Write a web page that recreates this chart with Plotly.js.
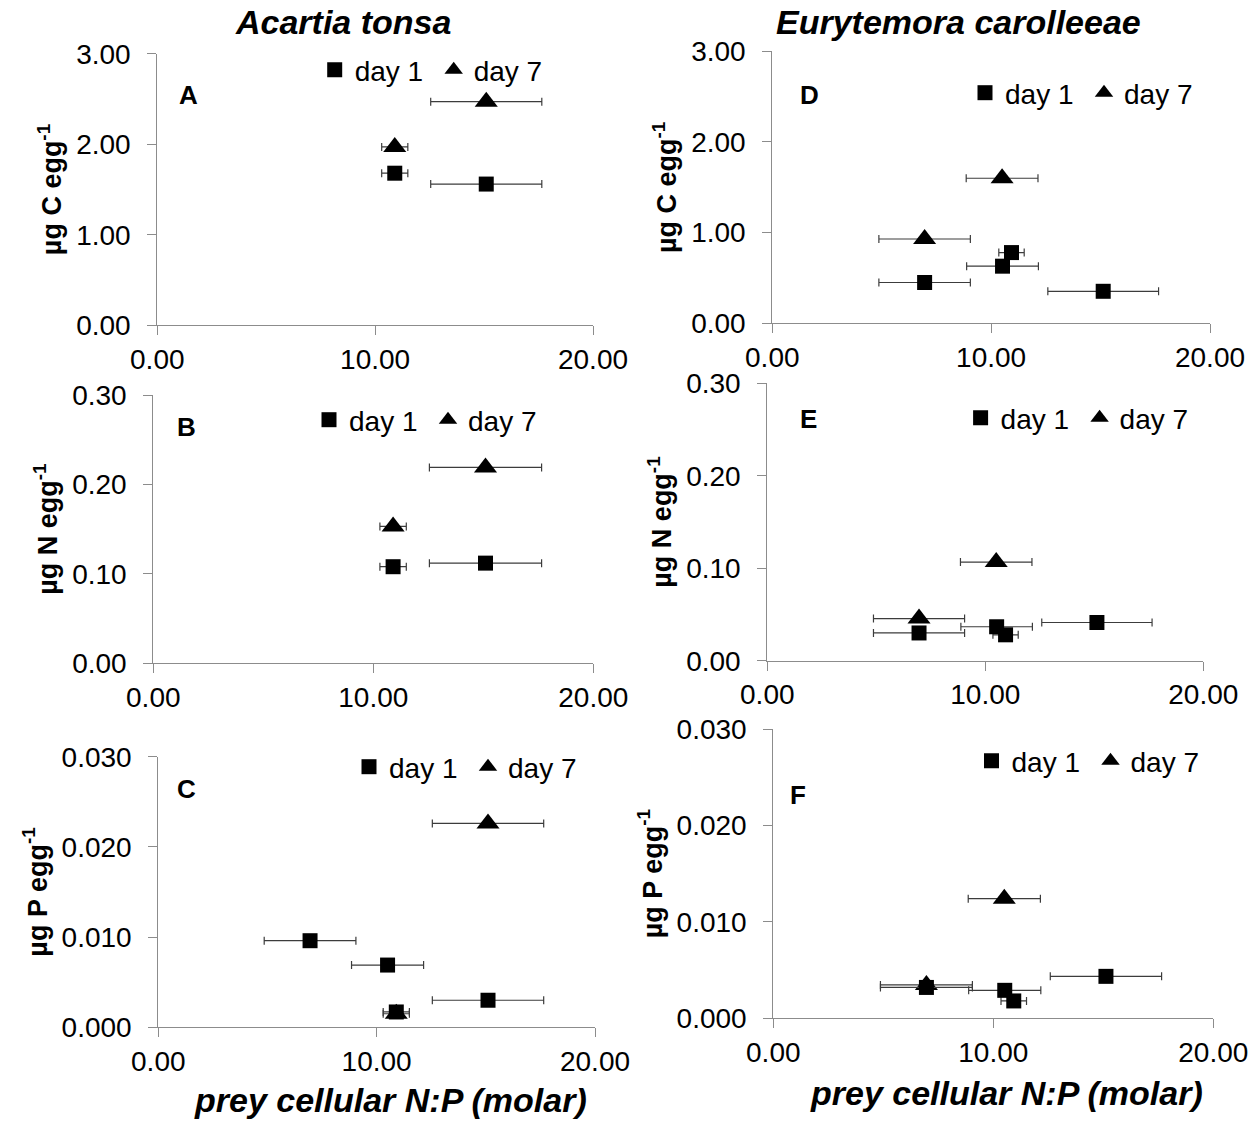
<!DOCTYPE html>
<html><head><meta charset="utf-8">
<script src="https://cdn.plot.ly/plotly-3.0.1.min.js"></script>
<style>html,body{margin:0;padding:0;background:#fff}</style>
</head><body><div id="chart" style="width:1260px;height:1133px"></div>
<script>
// ---------------- data ----------------
// Acartia tonsa
const acartiaNP_AB = [10.9, 15.1];
const acartiaNPerr_AB = [0.6, 2.55];
const acartiaC_day1 = [1.68, 1.56];
const acartiaC_day7 = [1.97, 2.47];
const acartiaN_day1 = [0.108, 0.112];
const acartiaN_day7 = [0.153, 0.219];
const acartiaNP_Pday1 = [6.95, 10.5, 10.9, 15.1];
const acartiaNPerr_Pday1 = [2.1, 1.65, 0.6, 2.55];
const acartiaP_day1 = [0.0096, 0.0069, 0.0017, 0.0030];
const acartiaNP_Pday7 = [10.9, 15.1];
const acartiaNPerr_Pday7 = [0.6, 2.55];
const acartiaP_day7 = [0.0015, 0.0226];
// Eurytemora carolleeae
const euryNP_day1 = [6.96, 10.52, 10.93, 15.12];
const euryNPerr_day1 = [2.09, 1.64, 0.58, 2.53];
const euryNP_day7 = [6.96, 10.5];
const euryNPerr_day7 = [2.09, 1.64];
const euryC_day1 = [0.45, 0.63, 0.78, 0.353];
const euryC_day7 = [0.93, 1.60];
const euryN_day1 = [0.030, 0.0367, 0.028, 0.0413];
const euryN_day7 = [0.0456, 0.1067];
const euryP_day1 = [0.0032, 0.0029, 0.0018, 0.00435];
const euryP_day7 = [0.00346, 0.0124];

const seriesNames = ['day 1', 'day 7'];
const panelLetters = ['A', 'B', 'C', 'D', 'E', 'F'];
const speciesTitles = ['Acartia tonsa', 'Eurytemora carolleeae'];
const yTitles = ['µg C egg<sup>-1</sup>', 'µg N egg<sup>-1</sup>', 'µg P egg<sup>-1</sup>'];
const xTitle = 'prey cellular N:P (molar)';

// ---------------- layout helpers ----------------
const W = 1260, H = 1133;
const FONT = 'Liberation Sans, Arial, sans-serif';
const fx = v => v / W;
const fy = v => 1 - v / H;

const panels = [
  {box:[157.3, 593, 53.7, 325.3], yr:[0,3], dt:1, fmt:'.2f', yt:0,
   d1:[acartiaNP_AB, acartiaC_day1, acartiaNPerr_AB], d7:[acartiaNP_AB, acartiaC_day7, acartiaNPerr_AB],
   letter:[188, 95], leg:[334.7, 70]},
  {box:[153.3, 593.3, 395, 663.3], yr:[0,0.3], dt:0.1, fmt:'.2f', yt:1,
   d1:[acartiaNP_AB, acartiaN_day1, acartiaNPerr_AB], d7:[acartiaNP_AB, acartiaN_day7, acartiaNPerr_AB],
   letter:[186, 427], leg:[329, 420]},
  {box:[158.3, 595, 756.7, 1027.3], yr:[0,0.03], dt:0.01, fmt:'.3f', yt:2, xt:[390, 1100],
   d1:[acartiaNP_Pday1, acartiaP_day1, acartiaNPerr_Pday1], d7:[acartiaNP_Pday7, acartiaP_day7, acartiaNPerr_Pday7],
   letter:[186, 789], leg:[369, 767]},
  {box:[772.3, 1210, 51.3, 323.3], yr:[0,3], dt:1, fmt:'.2f', yt:0,
   d1:[euryNP_day1, euryC_day1, euryNPerr_day1], d7:[euryNP_day7, euryC_day7, euryNPerr_day7],
   letter:[809, 95], leg:[985, 93]},
  {box:[767.3, 1203.3, 383.3, 660.7], yr:[0,0.3], dt:0.1, fmt:'.2f', yt:1,
   d1:[euryNP_day1, euryN_day1, euryNPerr_day1], d7:[euryNP_day7, euryN_day7, euryNPerr_day7],
   letter:[808, 419], leg:[980.6, 418]},
  {box:[773.3, 1213.3, 729, 1018.3], yr:[0,0.03], dt:0.01, fmt:'.3f', yt:2, xt:[1006, 1093],
   d1:[euryNP_day1, euryP_day1, euryNPerr_day1], d7:[euryNP_day7, euryP_day7, euryNPerr_day7],
   letter:[798, 795], leg:[991.5, 761]}
];

const traces = [];
const layout = {
  width: W, height: H, margin:{l:0, r:0, t:0, b:0},
  paper_bgcolor:'#fff', plot_bgcolor:'#fff', showlegend:true,
  font:{family:FONT, color:'#000'},
  annotations:[]
};

const axisCommon = {
  showline:true, linecolor:'#8c8c8c', linewidth:1, mirror:false,
  ticks:'outside', ticklen:9, tickwidth:1, tickcolor:'#8c8c8c',
  showgrid:false, zeroline:false,
  tickfont:{size:28, family:FONT, color:'#000'}
};

panels.forEach((p, i) => {
  const n = i + 1;
  const xa = n === 1 ? 'x' : 'x' + n, ya = n === 1 ? 'y' : 'y' + n;
  const xk = n === 1 ? 'xaxis' : 'xaxis' + n, yk = n === 1 ? 'yaxis' : 'yaxis' + n;
  const lk = n === 1 ? 'legend' : 'legend' + n;
  const [x0, x1, y0, y1] = p.box;
  layout[xk] = Object.assign({}, axisCommon, {
    domain:[fx(x0), fx(x1)], range:[0, 20], dtick:10, tick0:0, tickformat:'.2f', anchor:ya
  });
  layout[yk] = Object.assign({}, axisCommon, {
    domain:[fy(y1), fy(y0)], range:p.yr, dtick:p.dt, tick0:0, tickformat:p.fmt, anchor:xa,
    ticklabelstandoff:11,
    title:{text:'<b>' + yTitles[p.yt] + '</b>', font:{size:27, family:FONT, color:'#000'}, standoff:6}
  });
  layout[lk] = {
    orientation:'h', x:fx(p.leg[0] - 20), xanchor:'left', y:fy(p.leg[1]), yanchor:'middle',
    font:{size:28, family:FONT, color:'#000'}, bgcolor:'rgba(0,0,0,0)', borderwidth:0,
    entrywidth:74, traceorder:'normal', itemclick:false, itemdoubleclick:false
  };
  // day 7 drawn first, day 1 on top; legend order by rank
  traces.push({
    type:'scatter', mode:'markers', x:p.d7[0], y:p.d7[1], xaxis:xa, yaxis:ya,
    name:seriesNames[1], legend:lk, legendrank:2,
    marker:{symbol:'triangle-up', size:20, color:'#000'},
    error_x:{type:'data', array:p.d7[2], symmetric:true, color:'#3c3c3c', thickness:1.2, width:4},
    cliponaxis:false
  });
  traces.push({
    type:'scatter', mode:'markers', x:p.d1[0], y:p.d1[1], xaxis:xa, yaxis:ya,
    name:seriesNames[0], legend:lk, legendrank:1,
    marker:{symbol:'square', size:15, color:'#000'},
    error_x:{type:'data', array:p.d1[2], symmetric:true, color:'#3c3c3c', thickness:1.2, width:4},
    cliponaxis:false
  });
  layout.annotations.push({
    xref:'paper', yref:'paper', x:fx(p.letter[0]), y:fy(p.letter[1]), xanchor:'center', yanchor:'middle',
    text:'<b>' + panelLetters[i] + '</b>', showarrow:false, font:{size:26, family:FONT, color:'#000'}
  });
  if (p.xt) {
    // x-axis title of the bottom panel in each column
    layout.annotations.push({
      xref:'paper', yref:'paper', x:fx(p.xt[0]), y:fy(p.xt[1]), xanchor:'center', yanchor:'middle',
      text:'<b><i>' + xTitle + '</i></b>', showarrow:false, font:{size:34, family:FONT, color:'#000'}
    });
  }
});

// column titles
layout.annotations.push({
  xref:'paper', yref:'paper', x:fx(343), y:fy(22), xanchor:'center', yanchor:'middle',
  text:'<b><i>' + speciesTitles[0] + '</i></b>', showarrow:false, font:{size:34, family:FONT, color:'#000'}
});
layout.annotations.push({
  xref:'paper', yref:'paper', x:fx(958), y:fy(22), xanchor:'center', yanchor:'middle',
  text:'<b><i>' + speciesTitles[1] + '</i></b>', showarrow:false, font:{size:34, family:FONT, color:'#000'}
});

Plotly.newPlot('chart', traces, layout, {displayModeBar:false, staticPlot:true});
</script>
</body></html>
